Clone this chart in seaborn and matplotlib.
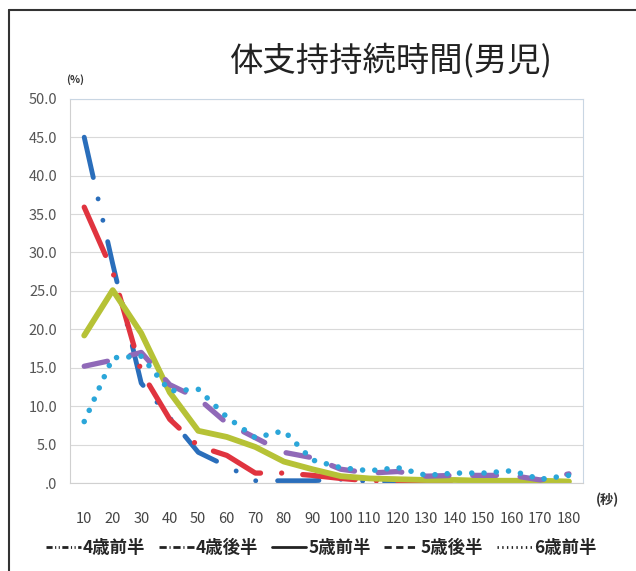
import matplotlib
matplotlib.use('Agg')
import matplotlib.pyplot as plt
import seaborn as sns
import pandas as pd
from matplotlib.lines import Line2D

# data (%)
seconds = [10, 20, 30, 40, 50, 60, 70, 80, 90, 100, 110, 120, 130, 140, 150, 160, 170, 180]
groups = ['4歳前半', '4歳後半', '5歳前半', '5歳後半', '6歳前半']
age4_first = [45.0, 28.5, 13.0, 8.5, 4.0, 2.2, 0.3, 0.3, 0.3, 0.5, 0.2, 0.2, 0.0, 0.0, 0.0, 0.0, 0.0, 0.0]
age4_second = [35.9, 27.5, 14.5, 8.3, 4.8, 3.6, 1.3, 1.3, 1.0, 0.6, 0.3, 0.3, 0.2, 0.1, 0.1, 0.1, 0.0, 0.0]
age5_first = [19.2, 25.1, 19.5, 11.8, 6.8, 6.0, 4.7, 2.8, 1.8, 0.9, 0.6, 0.5, 0.4, 0.4, 0.3, 0.3, 0.3, 0.2]
age5_second = [15.2, 16.0, 17.0, 12.8, 11.0, 7.8, 5.9, 4.0, 3.3, 1.8, 1.3, 1.5, 0.9, 1.0, 1.0, 1.0, 0.4, 1.2]
age6_first = [8.0, 16.3, 16.5, 12.0, 12.2, 8.6, 5.9, 6.8, 3.0, 2.0, 1.6, 2.0, 1.0, 1.3, 1.3, 1.6, 0.5, 1.0]

series = [age4_first, age4_second, age5_first, age5_second, age6_first]
df = pd.DataFrame({
    'sec': seconds * len(groups),
    'pct': [v for s in series for v in s],
    'group': [g for g in groups for _ in seconds],
})

sns.set_style('white')
plt.rcParams['font.family'] = ['Noto Sans CJK JP', 'DejaVu Sans']
plt.rcParams['lines.dash_capstyle'] = 'round'
plt.rcParams['lines.solid_capstyle'] = 'round'

colors = {'4歳前半': '#2a6ebb', '4歳後半': '#e0343f', '5歳前半': '#b6c236',
          '5歳後半': '#9069b8', '6歳前半': '#2ba6d9'}
dashes = {'4歳前半': (8.5, 4.5, 0.01, 4.5, 0.01, 4.5),
          '4歳後半': (10, 4, 0.01, 4),
          '5歳前半': '',
          '5歳後半': (4.5, 4.5),
          '6歳前半': (0.01, 2.2)}
widths = {'4歳前半': 3.5, '4歳後半': 3.8, '5歳前半': 4.2, '5歳後半': 3.8, '6歳前半': 4.0}

fig = plt.figure(figsize=(6.36, 5.71), dpi=100)
ax = fig.add_axes([0.110, 0.154, 0.807, 0.673])

sns.lineplot(data=df, x='sec', y='pct', hue='group', style='group',
             hue_order=groups, style_order=groups, palette=colors, dashes=dashes,
             linewidth=3.5, ax=ax)
hex_to_group = {matplotlib.colors.to_hex(c): g for g, c in colors.items()}
for line in ax.get_lines():
    g = hex_to_group.get(matplotlib.colors.to_hex(line.get_color()))
    if g:
        line.set_linewidth(widths[g])

ax.set_xlim(5, 185)
ax.set_ylim(0, 50)
ax.set_xticks(seconds)
ax.set_xticklabels([str(s) for s in seconds])
ax.set_yticks(range(0, 51, 5))
ax.set_yticklabels(['.0' if v == 0 else f'{v:.1f}' for v in range(0, 51, 5)])
ax.tick_params(axis='x', length=0, pad=21, labelsize=10.5, labelcolor='#444444')
ax.tick_params(axis='y', length=0, pad=9, labelsize=10.5, labelcolor='#555555')
ax.set_xlabel('')
ax.set_ylabel('')
ax.grid(axis='y', color='#d9d9d9', linewidth=0.8)
for side in ['top', 'right']:
    ax.spines[side].set_color('#c9d6e3')
for side in ['left', 'bottom']:
    ax.spines[side].set_color('#d0d0d0')
for sp in ax.spines.values():
    sp.set_linewidth(0.8)

# legend at the bottom, dark samples
old = ax.get_legend()
handles = old.legend_handles
labels = [t.get_text() for t in old.get_texts()]
old.remove()
legend_dashes = {'4歳前半': (2.2, 0.9, 0.4, 0.9, 0.4, 0.9),
                 '4歳後半': (2.6, 1.0, 0.4, 1.0),
                 '5歳前半': None,
                 '5歳後半': (2.6, 1.6),
                 '6歳前半': (0.5, 1.2)}
for h, lab in zip(handles, labels):
    h.set_color('#222222')
    h.set_linewidth(2)
    h.set_dash_capstyle('butt')
    if legend_dashes[lab] is None:
        h.set_linestyle('-')
    else:
        h.set_dashes(legend_dashes[lab])
leg = fig.legend(handles, labels, loc='center', bbox_to_anchor=(0.505, 0.04), ncol=5,
                 frameon=False, handlelength=2.0, handletextpad=0.1, columnspacing=0.8,
                 prop={'size': 12.5, 'weight': 'bold'})

fig.text(0.616, 0.893, '体支持持続時間(男児)', fontsize=24, ha='center', va='center', color='#222222')
fig.text(0.118, 0.86, '(%)', fontsize=7.5, fontweight='bold', ha='center', va='center', color='#333333')
fig.text(0.955, 0.125, '(秒)', fontsize=9.5, fontweight='bold', ha='center', va='center', color='#333333')

# chart frame (top and left edges visible in the scan)
fig.add_artist(Line2D([9 / 636, 1], [1 - 10 / 571, 1 - 10 / 571], transform=fig.transFigure, color='#333333', linewidth=1.5))
fig.add_artist(Line2D([9 / 636, 9 / 636], [0, 1 - 10 / 571], transform=fig.transFigure, color='#333333', linewidth=1.5))

fig.savefig('out.png', dpi=100, facecolor='white')
